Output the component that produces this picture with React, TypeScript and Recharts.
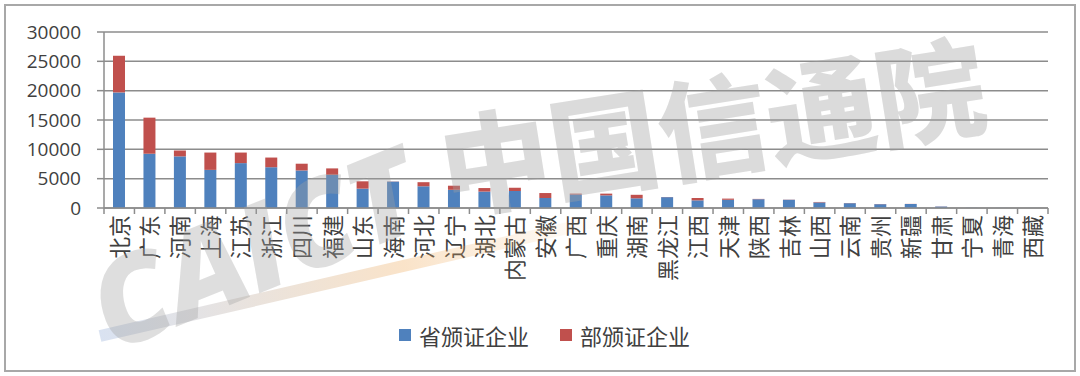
import { BarChart, Bar, XAxis, YAxis, CartesianGrid, Legend } from "recharts";

// 各省份增值电信业务经营许可企业数量（省颁证 / 部颁证）
const provinces = [
  "北京", "广东", "河南", "上海", "江苏", "浙江", "四川", "福建", "山东", "海南",
  "河北", "辽宁", "湖北", "内蒙古", "安徽", "广西", "重庆", "湖南", "黑龙江", "江西",
  "天津", "陕西", "吉林", "山西", "云南", "贵州", "新疆", "甘肃", "宁夏", "青海", "西藏",
];
const provincial = [
  19700, 9250, 8800, 6500, 7650, 6950, 6400, 5650, 3300, 4500,
  3700, 3100, 2800, 2900, 1700, 2300, 2150, 1650, 1850, 1300,
  1400, 1500, 1400, 950, 820, 650, 680, 250, 30, 20, 10,
];
const ministerial = [
  6250, 6150, 1000, 2950, 1800, 1650, 1150, 1100, 1250, 30,
  700, 700, 600, 550, 850, 150, 300, 600, 30, 400,
  200, 50, 30, 80, 30, 30, 20, 20, 5, 5, 0,
];
const yTicks = [0, 5000, 10000, 15000, 20000, 25000, 30000];
const seriesNames = ["省颁证企业", "部颁证企业"];

const data = provinces.map((name, i) => ({
  name,
  provincial: provincial[i],
  ministerial: ministerial[i],
}));

const WIDTH = 1080;
const HEIGHT = 376;
const margin = { top: 32, right: 32, bottom: 58, left: 4 };
const Y_AXIS_WIDTH = 100;
const X_AXIS_HEIGHT = 110;
const X_TICK_MARGIN = 7;
const plotWidth = WIDTH - margin.left - margin.right - Y_AXIS_WIDTH;
const band = plotWidth / provinces.length;

const BLUE = "#4F81BD";
const RED = "#C0504D";
const LINE = "#8c8c8c";
const TEXT = "#404040";
const CJK = "'Noto Sans CJK SC', 'Noto Sans', sans-serif";

const CategoryTick = (props: any) => {
  const { x, y, payload, index } = props;
  const axisY = y - X_TICK_MARGIN;
  const left = x - band / 2;
  return (
    <g>
      <line x1={left} y1={axisY} x2={left} y2={axisY + 6} stroke={LINE} strokeWidth={1.5} />
      {index === provinces.length - 1 && (
        <line x1={x + band / 2} y1={axisY} x2={x + band / 2} y2={axisY + 6} stroke={LINE} strokeWidth={1.5} />
      )}
      <text
        x={x}
        y={y}
        transform={`rotate(-90 ${x} ${y})`}
        textAnchor="end"
        dy="0.38em"
        fill={TEXT}
        fontSize={22}
        fontFamily={CJK}
      >
        {payload.value}
      </text>
    </g>
  );
};

const LegendContent = () => (
  <div
    style={{
      display: "flex",
      justifyContent: "center",
      alignItems: "center",
      gap: 31,
      paddingLeft: 9,
      fontFamily: CJK,
      fontSize: 22,
      color: TEXT,
    }}
  >
    {seriesNames.map((name, i) => (
      <div key={name} style={{ display: "flex", alignItems: "center", gap: 8 }}>
        <span style={{ width: 12, height: 12, background: i === 0 ? BLUE : RED, display: "inline-block" }} />
        <span>{name}</span>
      </div>
    ))}
  </div>
);

export default function App() {
  return (
    <div style={{ position: "absolute", left: 0, top: 0, width: WIDTH, height: HEIGHT, background: "#fff", overflow: "hidden" }}>
      <BarChart width={WIDTH} height={HEIGHT} data={data} margin={margin} barSize={12}>
        <CartesianGrid vertical={false} stroke={LINE} strokeWidth={1.5} />
        <XAxis
          dataKey="name"
          interval={0}
          height={X_AXIS_HEIGHT}
          tickLine={false}
          tickSize={0}
          tickMargin={X_TICK_MARGIN}
          axisLine={{ stroke: LINE, strokeWidth: 1.5 }}
          tick={<CategoryTick />}
        />
        <YAxis
          width={Y_AXIS_WIDTH}
          domain={[0, 30000]}
          ticks={yTicks}
          interval={0}
          tickSize={7}
          tickMargin={16}
          tickLine={{ stroke: LINE, strokeWidth: 1.5 }}
          axisLine={{ stroke: LINE, strokeWidth: 1.5 }}
          tick={{ fill: TEXT, fontSize: 19, fontFamily: "'Open Sans', sans-serif" }}
        />
        <Legend
          layout="horizontal"
          verticalAlign="middle"
          align="center"
          wrapperStyle={{ top: 319, left: 0, width: WIDTH }}
          content={<LegendContent />}
        />
        <Bar dataKey="provincial" name={seriesNames[0]} stackId="a" fill={BLUE} isAnimationActive={false} />
        <Bar dataKey="ministerial" name={seriesNames[1]} stackId="a" fill={RED} isAnimationActive={false} />
      </BarChart>

      {/* watermark */}
      <div style={{ position: "absolute", inset: 0, pointerEvents: "none" }}>
        <div
          style={{
            position: "absolute",
            left: 100,
            top: 330,
            width: 520,
            height: 12,
            background: "linear-gradient(90deg, rgba(130,160,210,0.30), rgba(240,175,100,0.35) 60%, rgba(255,255,255,0))",
            transform: "rotate(-13deg)",
            transformOrigin: "left center",
          }}
        />
        <div
          style={{
            position: "absolute",
            left: 95,
            top: 250,
            lineHeight: "120px",
            fontSize: 120,
            fontWeight: 900,
            fontStyle: "italic",
            fontFamily: "'Open Sans', sans-serif",
            color: "rgba(160,160,160,0.35)",
            transform: "rotate(-22deg)",
            transformOrigin: "left center",
            whiteSpace: "nowrap",
          }}
        >
          CAICT
        </div>
        <div
          style={{
            position: "absolute",
            left: 440,
            top: 108,
            lineHeight: "112px",
            fontSize: 110,
            fontWeight: 900,
            fontFamily: CJK,
            color: "rgba(160,160,160,0.38)",
            transform: "rotate(-9deg)",
            transformOrigin: "left center",
            whiteSpace: "nowrap",
          }}
        >
          中国信通院
        </div>
      </div>

      <div
        style={{
          position: "absolute",
          left: 4,
          top: 4,
          width: 1072,
          height: 368,
          boxSizing: "border-box",
          border: "2px solid #a8a8a8",
          pointerEvents: "none",
        }}
      />
    </div>
  );
}
